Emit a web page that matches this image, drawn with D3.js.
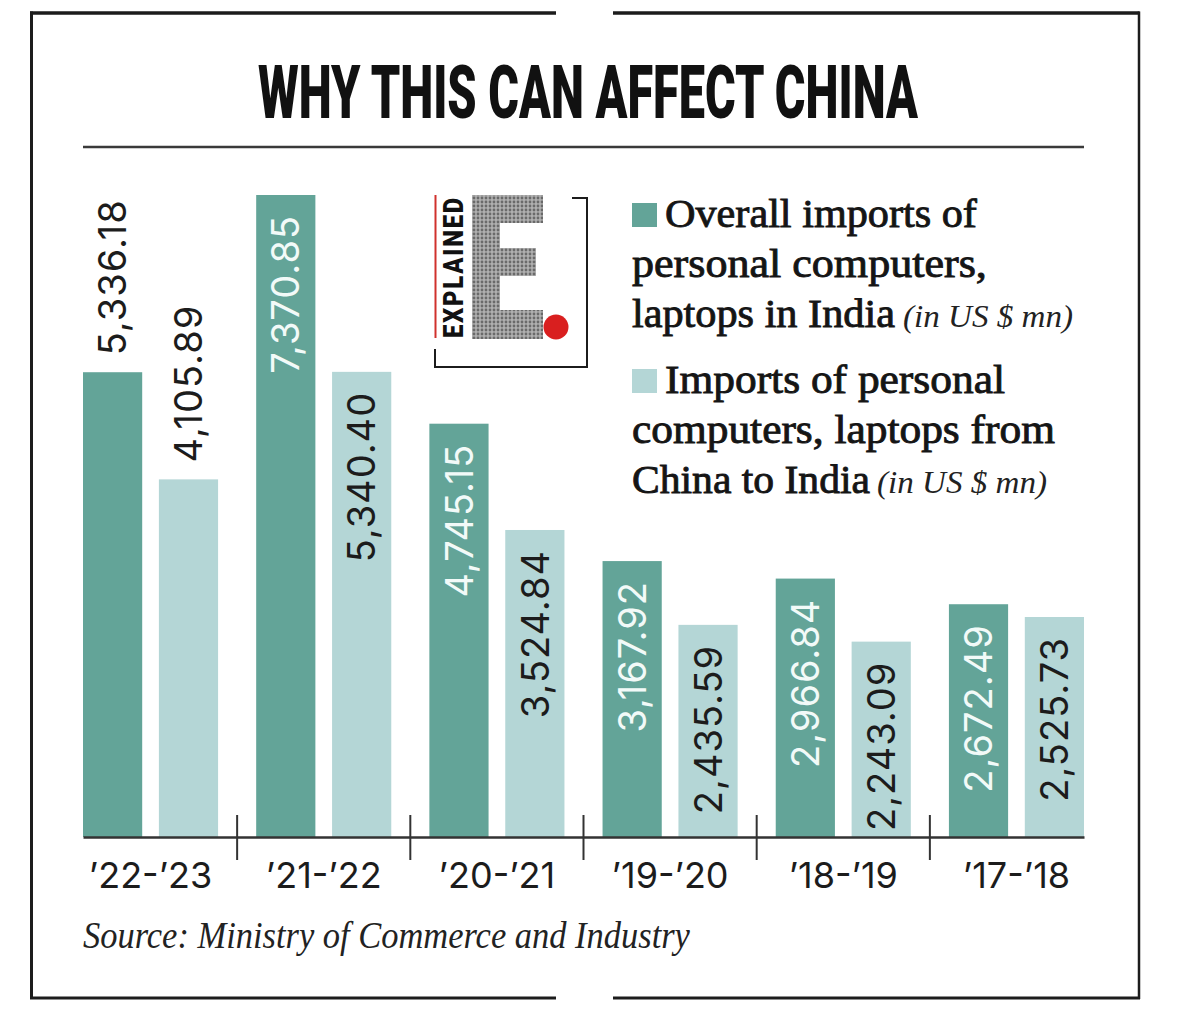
<!DOCTYPE html>
<html>
<head>
<meta charset="utf-8">
<script src="https://cdn.jsdelivr.net/npm/d3@7"></script>
<style>
  html, body { margin: 0; padding: 0; background: #ffffff; }
  svg { display: block; }
</style>
</head>
<body>
<svg id="chart" width="1192" height="1017"></svg>
<script>
// ---- data ----
const categories = ["\u201922-\u201923", "\u201921-\u201922", "\u201920-\u201921", "\u201919-\u201920", "\u201918-\u201919", "\u201917-\u201918"];
const seriesKeys = ["overall", "china"];
const overallImports = [5336.18, 7370.85, 4745.15, 3167.92, 2966.84, 2672.49];
const chinaImports = [4105.89, 5340.40, 3524.84, 2435.59, 2243.09, 2525.73];
const titleText = "WHY THIS CAN AFFECT CHINA";
const legendOverall = ["Overall imports of", "personal computers,", "laptops in India"];
const legendChina = ["Imports of personal", "computers, laptops from", "China to India"];
const unitText = "(in US $ mn)";
const sourceText = "Source: Ministry of Commerce and Industry";

// ---- setup ----
const svg = d3.select("#chart");
const DARK = "#63a498", LIGHT = "#b4d6d6", INK = "#1c1c1c";
const color = d3.scaleOrdinal().domain(seriesKeys).range([DARK, LIGHT]);

// horizontally fit a text element to a target width via transform
function fitWidth(sel, x, yy, width) {
  const w = sel.node().getComputedTextLength();
  sel.attr("x", 0).attr("y", 0)
    .attr("transform", `translate(${x},${yy}) scale(${width / w},1)`);
}

// frame
const frame = svg.append("g").attr("fill", "none").attr("stroke", INK);
frame.append("path").attr("stroke-width", 3.5).attr("d", "M30,13H556M613,13H1139.5");
frame.append("path").attr("stroke-width", 3).attr("d", "M31.5,11.5V999");
frame.append("path").attr("stroke-width", 2.5).attr("d", "M1139,11.5V999");
frame.append("path").attr("stroke-width", 3).attr("d", "M30,998H556M613,998H1140");

// title
const title = svg.append("text")
  .attr("font-family", "Roboto, 'Liberation Sans', sans-serif")
  .attr("font-weight", 900)
  .attr("font-size", 74)
  .attr("fill", "#111")
  .text(titleText);
fitWidth(title, 258, 118, 660);
svg.append("line").attr("x1", 83).attr("x2", 1084).attr("y1", 147).attr("y2", 147)
  .attr("stroke", "#3a3a3a").attr("stroke-width", 2.5);

// ---- scales ----
const x0 = d3.scaleBand().domain(categories).range([83, 1084]).paddingInner(0.22).paddingOuter(0);
const x1 = d3.scaleBand().domain(seriesKeys).range([0, x0.bandwidth()]).paddingInner(0.22);
const y = d3.scaleLinear().domain([0, d3.max(overallImports)]).range([837, 195]);
const fmt = d3.format(",.2f");

const rows = categories.map((c, i) => ({
  cat: c, i,
  values: [{ key: "overall", v: overallImports[i] }, { key: "china", v: chinaImports[i] }]
}));

const groups = svg.append("g").selectAll("g").data(rows).join("g")
  .attr("transform", d => `translate(${x0(d.cat)},0)`);

groups.selectAll("rect").data(d => d.values).join("rect")
  .attr("x", d => x1(d.key))
  .attr("y", d => y(d.v))
  .attr("width", x1.bandwidth())
  .attr("height", d => y(0) - y(d.v))
  .attr("fill", d => color(d.key));

// value labels (rotated)
groups.each(function(row) {
  const g = d3.select(this);
  row.values.forEach(d => {
    const cx = x1(d.key) + x1.bandwidth() / 2;
    const outside = row.i === 0;
    const top = y(d.v);
    g.append("text")
      .attr("transform", outside
        ? `translate(${cx},${top - 17}) rotate(-90)`
        : `translate(${cx},${top + 20}) rotate(-90)`)
      .attr("text-anchor", outside ? "start" : "end")
      .attr("dy", "0.36em")
      .attr("font-family", "Inter, 'Noto Sans', sans-serif")
      .attr("font-size", 38)
      .attr("letter-spacing", 1.0)
      .attr("fill", (!outside && d.key === "overall") ? "#f2faf8" : INK)
      .text(fmt(d.v));
  });
});

// axis
const axis = svg.append("g").attr("transform", `translate(0,${y(0)})`)
  .call(d3.axisBottom(x0).tickSize(0).tickSizeOuter(0));
axis.select(".domain").attr("stroke", "#333").attr("stroke-width", 2.5);
axis.selectAll("text")
  .attr("y", 51).attr("dy", 0)
  .attr("font-family", "Inter, 'Noto Sans', sans-serif")
  .attr("font-size", 36)
  .attr("fill", INK);

// separators between groups
const seps = categories.slice(1).map((c, i) => (x0(categories[i]) + x0.bandwidth() + x0(c)) / 2);
svg.append("g").selectAll("line").data(seps).join("line")
  .attr("x1", d => d).attr("x2", d => d)
  .attr("y1", 815).attr("y2", 860)
  .attr("stroke", "#333").attr("stroke-width", 2);

// source
const src = svg.append("text")
  .attr("font-family", "'Liberation Serif', 'DejaVu Serif', serif")
  .attr("font-style", "italic")
  .attr("font-size", 38)
  .attr("fill", "#222")
  .text(sourceText);
fitWidth(src, 83, 948, 607);

// ---- legend ----
const leg = svg.append("g");
function legendLine(txt, x, yy, len) {
  const t = leg.append("text")
    .attr("font-family", "'Liberation Serif', 'DejaVu Serif', serif")
    .attr("font-size", 41)
    .attr("fill", "#151515").attr("stroke", "#151515").attr("stroke-width", 0.9)
    .text(txt);
  fitWidth(t, x, yy, len);
}
function unitLine(x, yy, len) {
  const t = leg.append("text")
    .attr("font-family", "'Liberation Serif', 'DejaVu Serif', serif")
    .attr("font-style", "italic")
    .attr("font-size", 31)
    .attr("fill", "#222")
    .text(unitText);
  fitWidth(t, x, yy, len);
}
leg.append("rect").attr("x", 632).attr("y", 203).attr("width", 25).attr("height", 24).attr("fill", color("overall"));
legendLine(legendOverall[0], 665, 227, 312);
legendLine(legendOverall[1], 632, 277, 355);
legendLine(legendOverall[2], 632, 327, 263);
unitLine(903, 327, 170);
leg.append("rect").attr("x", 632).attr("y", 369).attr("width", 25).attr("height", 24).attr("fill", color("china"));
legendLine(legendChina[0], 665, 393, 340);
legendLine(legendChina[1], 632, 443, 423);
legendLine(legendChina[2], 632, 493, 238);
unitLine(877, 493, 170);

// ---- EXPLAINED logo ----
const defs = svg.append("defs");
const pat = defs.append("pattern").attr("id", "halftone").attr("patternUnits", "userSpaceOnUse")
  .attr("width", 4).attr("height", 4);
pat.append("rect").attr("width", 4).attr("height", 4).attr("fill", "#b0b0b0");
pat.append("circle").attr("cx", 2).attr("cy", 2).attr("r", 1.4).attr("fill", "#6a6a6a");

const logo = svg.append("g");
logo.append("line").attr("x1", 435.5).attr("x2", 435.5).attr("y1", 195).attr("y2", 338)
  .attr("stroke", "#d0312d").attr("stroke-width", 2);
logo.append("path").attr("fill", "none").attr("stroke", INK).attr("stroke-width", 2)
  .attr("d", "M435,349V367H587V198H572");
const ex = logo.append("text")
  .attr("font-family", "Roboto, 'Liberation Sans', sans-serif")
  .attr("font-weight", 900).attr("font-size", 27)
  .attr("letter-spacing", 2)
  .attr("fill", "#111")
  .text("EXPLAINED");
{
  const w = ex.node().getComputedTextLength();
  ex.attr("transform", `translate(463,338) rotate(-90) scale(${142 / w},1)`);
}
logo.append("path").attr("fill", "url(#halftone)")
  .attr("d", "M472,195H543V223H500V248H536V276H500V310H543V339H472Z");
logo.append("circle").attr("cx", 556).attr("cy", 327).attr("r", 12.5).attr("fill", "#d91f1f");
</script>
</body>
</html>
